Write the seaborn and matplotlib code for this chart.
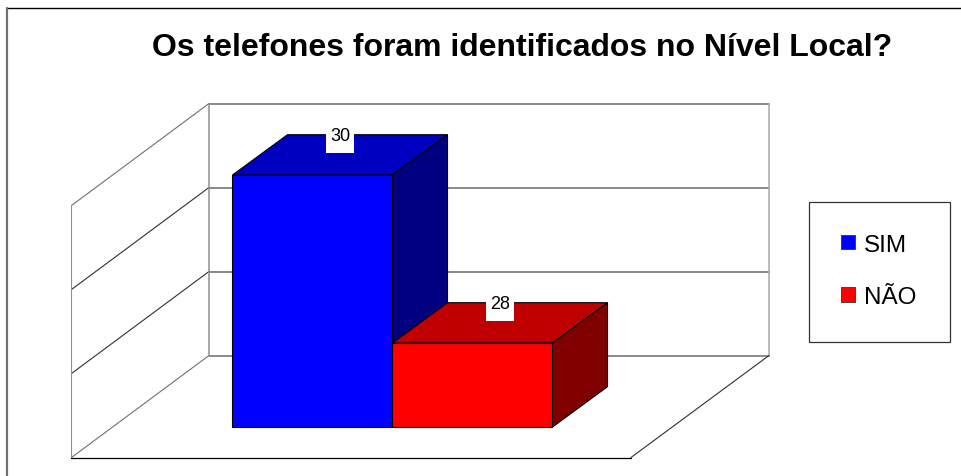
import numpy as np
import matplotlib
matplotlib.use("Agg")
import matplotlib.pyplot as plt
from matplotlib.patches import Patch, Polygon, Rectangle
import seaborn as sns

# data
categorias = ["SIM", "NÃO"]
valores = [30, 28]
base = 27
grid_niveis = [27, 28, 29, 30]
cores = ["#0000FF", "#FF0000"]
cores_topo = ["#0000C0", "#C00000"]
cores_lado = ["#000080", "#800000"]
titulo = "Os telefones foram identificados no Nível Local?"

sns.set_theme(style="white")
plt.rcParams["font.family"] = ["Liberation Sans", "DejaVu Sans"]

fig = plt.figure(figsize=(9.62, 4.77), dpi=100)
ax = fig.add_axes([0, 0, 1, 1])

# one category = 160 px, one unit = 84 px, zero of the scale at the bar base
PX_X, PX_Y = 160.0, 84.0
X0, Y0 = 312.5, 428.0


def px(x, y):
    return (x - X0) / PX_X, (Y0 - y) / PX_Y


alturas = [v - base for v in valores]
sns.barplot(x=categorias, y=alturas, hue=categorias, palette=cores, width=1,
            saturation=1, legend=False, edgecolor="black", linewidth=0.8, ax=ax)
ax.set_xlim(-X0 / PX_X, (962 - X0) / PX_X)
ax.set_ylim((Y0 - 477) / PX_Y, Y0 / PX_Y)
ax.axis("off")

# walls and floor
wx0, wx1 = px(209, 0)[0], px(769, 0)[0]
lx = px(71.5, 0)[0]
fx = px(631, 0)[0]
dy_wall = 102 / PX_Y
back = [px(0, 356.5)[1] + (n - base) for n in grid_niveis]
for i, yb in enumerate(back):
    cor = "#707070" if i in (0, len(back) - 1) else "#303030"
    ax.plot([wx0, wx1], [yb, yb], color="#6A6A6A", lw=1.1, zorder=1)
    ax.plot([lx, wx0], [yb - dy_wall, yb], color=cor, lw=0.8, zorder=1)
ax.plot([wx0, wx0], [back[0], back[-1]], color="#909090", lw=1.1, zorder=1)
ax.plot([wx1, wx1], [back[0], back[-1]], color="#A8A8A8", lw=1.1, zorder=1)
ax.plot([lx, lx], [back[0] - dy_wall, back[-1] - dy_wall], color="#909090", lw=0.8, zorder=1)
ax.plot([lx, fx], [back[0] - dy_wall] * 2, color="black", lw=0.9, zorder=1)
ax.plot([fx, wx1], [back[0] - dy_wall, back[0]], color="#303030", lw=0.8, zorder=1)

# depth faces taken from the bars themselves
dx, dy = 55 / PX_X, 40.3 / PX_Y
for i, bar in enumerate(ax.patches):
    x0, w, h = bar.get_x(), bar.get_width(), bar.get_height()
    x1 = x0 + w
    z = 3 + i
    bar.set_zorder(z + 0.1)
    ax.add_patch(Polygon([(x0, h), (x0 + dx, h + dy), (x1 + dx, h + dy), (x1, h)],
                         facecolor=cores_topo[i], edgecolor="black", lw=0.8, zorder=z))
    ax.add_patch(Polygon([(x1, 0), (x1, h), (x1 + dx, h + dy), (x1 + dx, dy)],
                         facecolor=cores_lado[i], edgecolor="black", lw=0.8, zorder=z))
    cx = (x0 + x1) / 2 + dx / 2
    ytop = h + dy
    ax.add_patch(Rectangle((cx - 14 / PX_X, ytop - 18.5 / PX_Y), 28 / PX_X, 27 / PX_Y,
                           facecolor="white", edgecolor="none", zorder=10))
    ax.text(cx, ytop - 1 / PX_Y, str(valores[i]), fontsize=13, ha="center",
            va="center", color="black", zorder=11)

# outer frame
ax.plot(*zip(px(7, 9), px(962, 9)), color="black", lw=1.0, zorder=1)
ax.plot(*zip(px(7.5, 9), px(7.5, 477)), color="#707070", lw=1.6, zorder=1)

ax.text(*px(522.5, 48), titulo, fontsize=23, fontweight="bold", ha="center",
        va="center", color="black")

# legend box and entries
ax.add_patch(Rectangle(px(809.5, 343), 140.5 / PX_X, 140 / PX_Y, facecolor="white",
                       edgecolor="#333333", lw=0.9, zorder=12))
handles = [Patch(facecolor=c, edgecolor="#333333", lw=0.6) for c in cores]
leg = ax.legend(handles, categorias, loc="upper left",
                bbox_to_anchor=(841.5 / 962, 1 - 234.5 / 477), borderaxespad=0,
                borderpad=0, prop={"size": 17.5}, frameon=False, labelspacing=1.25,
                handlelength=0.55, handleheight=0.55, handletextpad=0.37,
                labelcolor="black")
leg.set_zorder(13)

fig.savefig("out.png", dpi=100)
